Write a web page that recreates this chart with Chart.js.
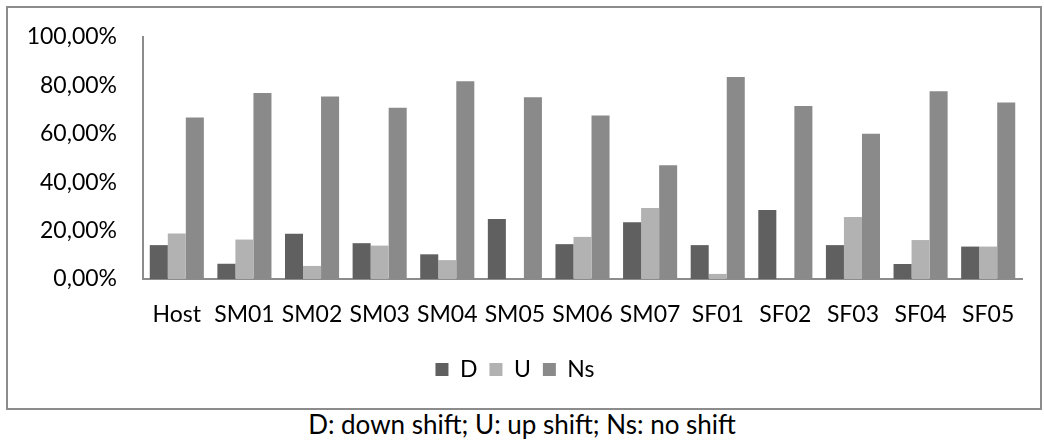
<!DOCTYPE html>
<html>
<head>
<meta charset="utf-8">
<script src="https://cdn.jsdelivr.net/npm/chart.js@4"></script>
<style>
  body { margin: 0; background: #fff; font-family: Lato, sans-serif; }
  #frame {
    position: absolute; left: 6px; top: 6px;
    width: 1032px; height: 400px;
    border: 2px solid #8c8c8c;
  }
  #caption {
    position: absolute; left: 0; top: 408px; width: 1044px;
    text-align: center; font-size: 26px; color: #000;
  }
</style>
</head>
<body>
<div id="frame"><canvas id="mychart" width="1032" height="400"></canvas></div>
<div id="caption">D: down shift; U: up shift; Ns: no shift</div>
<script>
// valores (%)
const categorias = ["Host", "SM01", "SM02", "SM03", "SM04", "SM05", "SM06", "SM07", "SF01", "SF02", "SF03", "SF04", "SF05"]
const valoresD  = [14.0, 6.3, 18.7, 14.8, 10.2, 24.8, 14.4, 23.4, 14.0, 28.5, 14.0, 6.2, 13.4]
const valoresU  = [18.8, 16.3, 5.4, 13.8, 7.8, 0, 17.4, 29.3, 2.1, 0, 25.6, 16.1, 13.4]
const valoresNs = [66.7, 76.9, 75.4, 70.8, 81.7, 75.1, 67.6, 47.0, 83.5, 71.5, 60.0, 77.6, 72.9]
const rotulosY  = ["0,00%", "20,00%", "40,00%", "60,00%", "80,00%", "100,00%"]

const ctx = document.getElementById('mychart').getContext("2d");

new Chart(ctx, {
    type: 'bar',
    data: {
        labels: categorias,
        datasets: [
            { label: 'D',  data: valoresD,  backgroundColor: '#606060' },
            { label: 'U',  data: valoresU,  backgroundColor: '#b2b2b2' },
            { label: 'Ns', data: valoresNs, backgroundColor: '#8a8a8a' }
        ]
    },
    options: {
        responsive: false,
        animation: false,
        devicePixelRatio: 1,
        layout: { padding: { top: 29, right: 18, bottom: 17, left: 0 } },
        datasets: { bar: { categoryPercentage: 0.8, barPercentage: 1.0 } },
        plugins: {
            tooltip: { enabled: false },
            legend: {
                position: 'bottom',
                labels: {
                    color: '#000',
                    font: { family: 'Lato', size: 23 },
                    boxWidth: 13, boxHeight: 13,
                    padding: 12
                }
            }
        },
        scales: {
            x: {
                grid: { display: false, drawTicks: false },
                border: { color: '#8c8c8c', width: 2 },
                ticks: {
                    color: '#000', font: { family: 'Lato', size: 23 },
                    padding: 22, maxRotation: 0, autoSkip: false
                },
                afterFit: (s) => { s.height = 67 }
            },
            y: {
                min: 0, max: 100,
                grid: { display: false, drawTicks: false },
                border: { color: '#8c8c8c', width: 2 },
                ticks: {
                    stepSize: 20,
                    color: '#000', font: { family: 'Lato', size: 23 },
                    padding: 26,
                    callback: (v, i) => rotulosY[i]
                },
                afterFit: (s) => {
                    s.width = 135
                    s.paddingTop = 0
                    s.paddingBottom = 0
                }
            }
        }
    }
});
</script>
</body>
</html>
